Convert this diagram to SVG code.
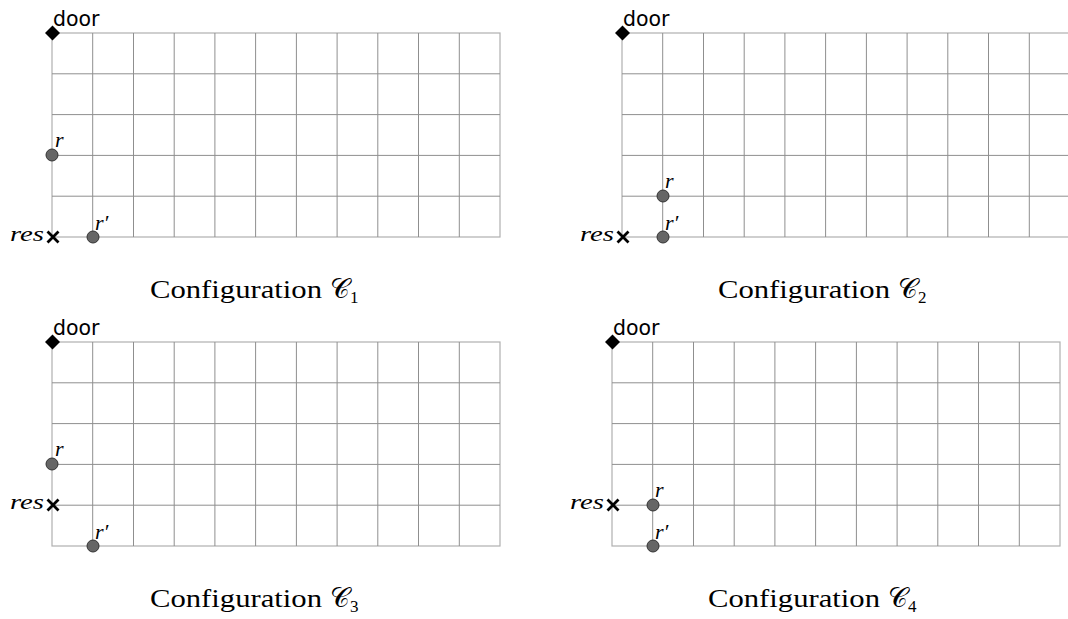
<svg xmlns="http://www.w3.org/2000/svg" width="1068" height="619" viewBox="0 0 1068 619">
<style>
.bg{fill:#fff}
.grid line{stroke:#8f8f8f;stroke-width:1}
.edge{fill:none;stroke:#b0b0b0;stroke-width:1.2}
.door{font-family:"DejaVu Sans",sans-serif;font-size:20.5px;fill:#000}
.lbl{font-family:"Liberation Serif",serif;font-style:italic;font-size:22px;fill:#000}
.cap{font-family:"Liberation Serif",serif;font-size:25px;fill:#000}
.cal{font-family:"DejaVu Serif",serif;font-size:27px}
.sub{font-family:"Liberation Serif",serif;font-size:17px}
.robot{fill:#666;stroke:#333;stroke-width:1}
.cross{stroke:#000;stroke-width:2.8;stroke-linecap:butt;fill:none}
</style>
<defs>
<g id="grid" class="grid">
<rect class="edge" x="0" y="0" width="448" height="204"/>
<line x1="40.7" y1="0" x2="40.7" y2="204"/>
<line x1="81.5" y1="0" x2="81.5" y2="204"/>
<line x1="122.2" y1="0" x2="122.2" y2="204"/>
<line x1="162.9" y1="0" x2="162.9" y2="204"/>
<line x1="203.6" y1="0" x2="203.6" y2="204"/>
<line x1="244.4" y1="0" x2="244.4" y2="204"/>
<line x1="285.1" y1="0" x2="285.1" y2="204"/>
<line x1="325.8" y1="0" x2="325.8" y2="204"/>
<line x1="366.5" y1="0" x2="366.5" y2="204"/>
<line x1="407.3" y1="0" x2="407.3" y2="204"/>
<line x1="0" y1="40.8" x2="448" y2="40.8"/>
<line x1="0" y1="81.6" x2="448" y2="81.6"/>
<line x1="0" y1="122.4" x2="448" y2="122.4"/>
<line x1="0" y1="163.2" x2="448" y2="163.2"/>
</g>
<path id="diamond" d="M0,-7.5 L7.5,0 L0,7.5 L-7.5,0 Z" fill="#000"/>
<path id="cross" class="cross" d="M-5.5,-5.5 L5.5,5.5 M-5.5,5.5 L5.5,-5.5"/>
</defs>
<rect class="bg" x="0" y="0" width="1068" height="619"/>

<g id="panel1">
<use href="#grid" x="52" y="33"/>
<use href="#diamond" x="52.5" y="33"/>
<text class="door" x="53" y="26">door</text>
<use href="#cross" x="53" y="237"/>
<text class="lbl" x="10" y="241" textLength="34" lengthAdjust="spacingAndGlyphs">res</text>
<circle class="robot" cx="52" cy="155" r="6"/>
<text class="lbl" x="55" y="147">r</text>
<circle class="robot" cx="93" cy="237" r="6"/>
<text class="lbl" x="95" y="230">r′</text>
<text class="cap" x="150" y="298" textLength="172" lengthAdjust="spacingAndGlyphs">Configuration</text>
<text class="cap" x="330" y="298"><tspan class="cal">𝒞</tspan><tspan class="sub" dy="5">1</tspan></text>
</g>

<g id="panel2">
<use href="#grid" x="622" y="33"/>
<use href="#diamond" x="622.5" y="33"/>
<text class="door" x="623" y="26">door</text>
<use href="#cross" x="623" y="237"/>
<text class="lbl" x="580" y="241" textLength="34" lengthAdjust="spacingAndGlyphs">res</text>
<circle class="robot" cx="663" cy="196" r="6"/>
<text class="lbl" x="665" y="188">r</text>
<circle class="robot" cx="663" cy="237" r="6"/>
<text class="lbl" x="665" y="230">r′</text>
<text class="cap" x="718" y="298" textLength="172" lengthAdjust="spacingAndGlyphs">Configuration</text>
<text class="cap" x="898" y="298"><tspan class="cal">𝒞</tspan><tspan class="sub" dy="5">2</tspan></text>
</g>

<g id="panel3">
<use href="#grid" x="52" y="342"/>
<use href="#diamond" x="52.5" y="342"/>
<text class="door" x="53" y="335">door</text>
<use href="#cross" x="53" y="505"/>
<text class="lbl" x="10" y="509" textLength="34" lengthAdjust="spacingAndGlyphs">res</text>
<circle class="robot" cx="52" cy="464" r="6"/>
<text class="lbl" x="55" y="456">r</text>
<circle class="robot" cx="93" cy="546" r="6"/>
<text class="lbl" x="95" y="539">r′</text>
<text class="cap" x="150" y="607" textLength="172" lengthAdjust="spacingAndGlyphs">Configuration</text>
<text class="cap" x="330" y="607"><tspan class="cal">𝒞</tspan><tspan class="sub" dy="5">3</tspan></text>
</g>

<g id="panel4">
<use href="#grid" x="612" y="342"/>
<use href="#diamond" x="612.5" y="342"/>
<text class="door" x="613" y="335">door</text>
<use href="#cross" x="613" y="505"/>
<text class="lbl" x="570" y="509" textLength="34" lengthAdjust="spacingAndGlyphs">res</text>
<circle class="robot" cx="653" cy="505" r="6"/>
<text class="lbl" x="655" y="497">r</text>
<circle class="robot" cx="653" cy="546" r="6"/>
<text class="lbl" x="655" y="539">r′</text>
<text class="cap" x="708" y="607" textLength="172" lengthAdjust="spacingAndGlyphs">Configuration</text>
<text class="cap" x="888" y="607"><tspan class="cal">𝒞</tspan><tspan class="sub" dy="5">4</tspan></text>
</g>

<g id="connectors"/>
</svg>
